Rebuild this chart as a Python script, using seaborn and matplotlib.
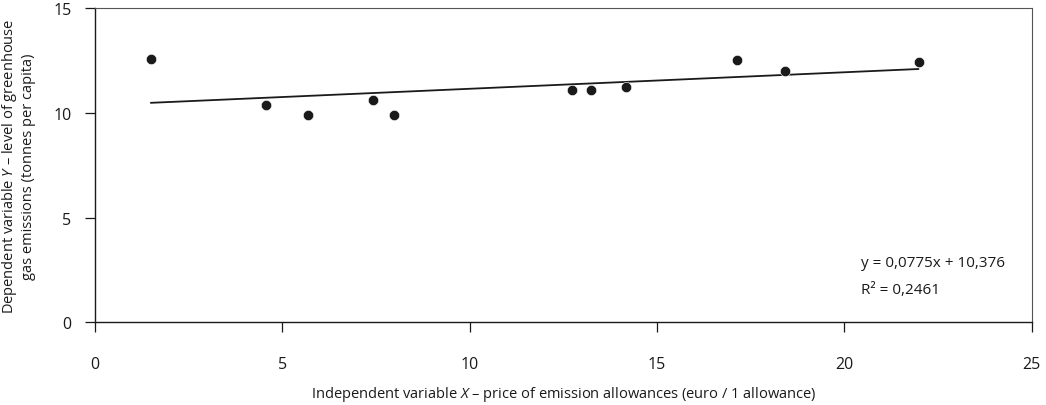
import matplotlib
matplotlib.use('Agg')
import matplotlib.pyplot as plt
import seaborn as sns
import pandas as pd

# Datos
precio = [1.49, 4.56, 5.68, 7.41, 7.98, 12.72, 13.25, 14.16, 17.13, 18.41, 21.98]
emisiones = [12.57, 10.38, 9.92, 10.64, 9.92, 11.10, 11.11, 11.24, 12.55, 12.00, 12.46]
x_ticks = [0, 5, 10, 15, 20, 25]
y_ticks = [0, 5, 10, 15]

df = pd.DataFrame({'precio': precio, 'emisiones': emisiones})

sns.set_style('white')
plt.rcParams['font.family'] = ['Open Sans', 'DejaVu Sans']
plt.rcParams['mathtext.fontset'] = 'custom'
plt.rcParams['mathtext.rm'] = 'Open Sans'
plt.rcParams['mathtext.it'] = 'Open Sans:italic'

fig = plt.figure(figsize=(10.46, 4.06), dpi=100)
ax = fig.add_axes([0.0908, 0.2037, 0.8955, 0.7733])

sns.regplot(data=df, x='precio', y='emisiones', ci=None, truncate=True, ax=ax,
            scatter_kws={'s': 55, 'color': '#1a1a1a', 'alpha': 1, 'edgecolor': 'white',
                         'linewidths': 0.4, 'zorder': 3},
            line_kws={'color': '#1a1a1a', 'linewidth': 1.3, 'zorder': 2})

ax.set_xlim(0, 25)
ax.set_ylim(0, 15)
ax.set_xticks(x_ticks)
ax.set_yticks(y_ticks)
ax.tick_params(axis='both', direction='out', length=7, width=0.9, color='#1a1a1a',
               labelsize=11.5, labelcolor='#1a1a1a', bottom=True, left=True)
ax.tick_params(axis='x', pad=17)
ax.tick_params(axis='y', pad=10)

for s in ['left', 'bottom']:
    ax.spines[s].set_color('#1a1a1a')
    ax.spines[s].set_linewidth(1.0)
for s in ['top', 'right']:
    ax.spines[s].set_color('#555555')
    ax.spines[s].set_linewidth(0.8)

ax.set_xlabel('Independent variable $\\it{X}$ – price of emission allowances (euro / 1 allowance)',
              fontsize=10.5, color='#1a1a1a', labelpad=9)
ax.set_ylabel('Dependent variable $\\it{Y}$ – level of greenhouse\ngas emissions (tonnes per capita)',
              fontsize=10.5, color='#1a1a1a', labelpad=12)

ax.text(20.45, 2.87, 'y = 0,0775x + 10,376', fontsize=11, color='#1a1a1a', va='center')
ax.text(20.45, 1.58, 'R² = 0,2461', fontsize=11, color='#1a1a1a', va='center')

plt.savefig('out.png', dpi=100)
plt.close()
